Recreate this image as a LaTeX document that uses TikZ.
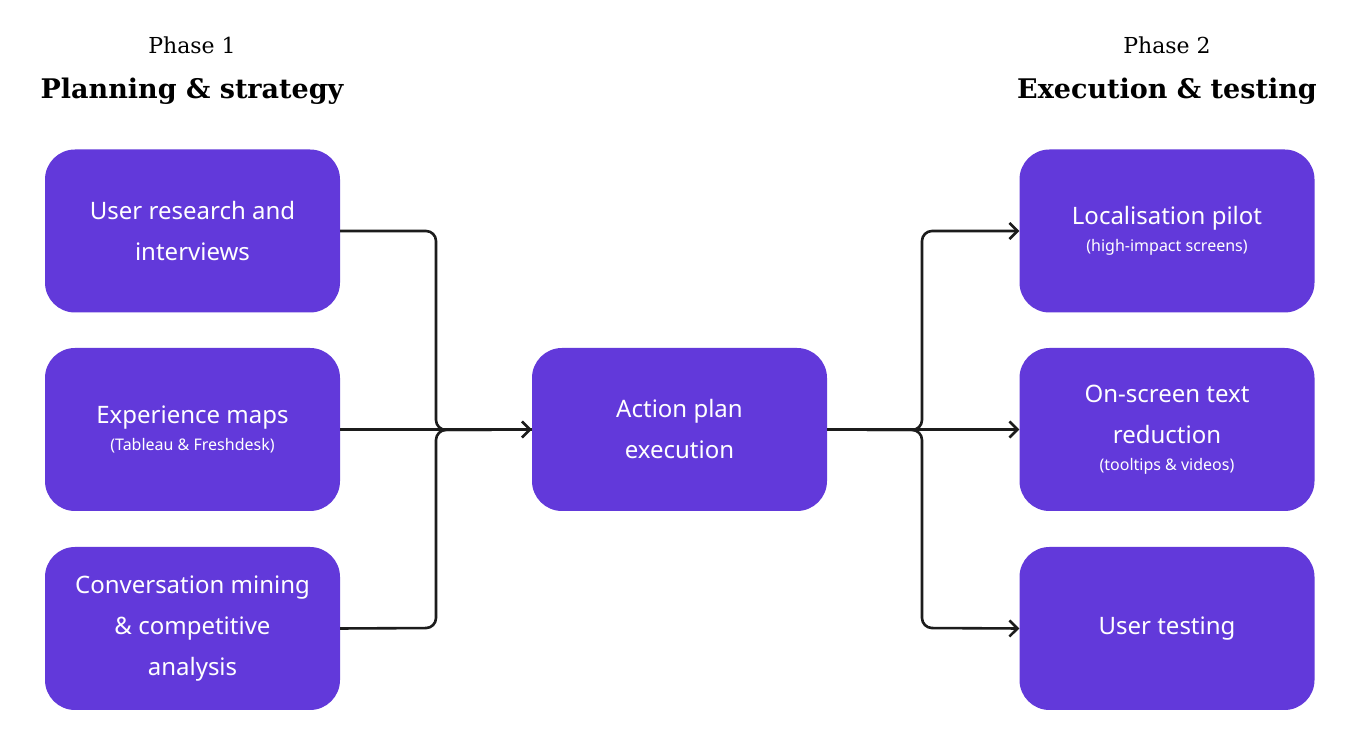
\documentclass[tikz,border=0pt]{standalone}
\usepackage{fontspec}
\setmainfont{Noto Sans}
\newfontfamily\headfont{DejaVu Serif}
\newcommand\subtx[1]{{\fontsize{16}{20}\selectfont #1}}
\usetikzlibrary{arrows.meta}
\definecolor{boxc}{HTML}{6239DA}
\definecolor{linec}{HTML}{1C1C1C}
\begin{document}
\begin{tikzpicture}[x=1pt,y=1pt,
  box/.style={fill=boxc,rounded corners=30pt,minimum width=295pt,minimum height=163pt,text=white,align=center,font=\fontsize{24}{41}\selectfont,inner sep=0pt},
  con/.style={draw=linec,line width=2.6pt,rounded corners=10pt},
  arr/.style={-{Straight Barb[length=8pt,width=16pt,line width=2.6pt]}}]
\useasboundingbox (0,0) rectangle (1366,743);
\fill[white] (0,0) rectangle (1366,743);
\node[font=\headfont\fontsize{22}{26}\selectfont] (p1) at (192,698) {Phase 1};
\node[font=\headfont\bfseries\fontsize{27}{30}\selectfont] (h1) at (192,652) {Planning \& strategy};
\node[font=\headfont\fontsize{22}{26}\selectfont] (p2) at (1167,698) {Phase 2};
\node[font=\headfont\bfseries\fontsize{27}{30}\selectfont] (h2) at (1167,652) {Execution \& testing};
\node[box] (a) at (192.5,512) {User research and\\interviews};
\node[box] (b) at (192.5,313.5) {Experience maps\\[-14pt]\subtx{(Tableau \& Freshdesk)}};
\node[box] (e) at (192.5,114.5) {Conversation mining\\\& competitive\\analysis};
\node[box] (c) at (679.5,313.5) {Action plan\\execution};
\node[box] (d) at (1167,512) {Localisation pilot\\[-14pt]\subtx{(high-impact screens)}};
\node[box] (f) at (1167,313.5) {On-screen text\\reduction\\[-14pt]\subtx{(tooltips \& videos)}};
\node[box] (g) at (1167,114.5) {User testing};
\draw[con] (a.east) -- (436,512) -- (436,313) -- (c.west);
\draw[con] (e.east) -- (436,115) -- (436,313) -- (c.west);
\draw[con,arr] (b.east) -- (c.west);
\draw[con,arr] (c.east) -- (922,313) -- (922,512) -- (d.west);
\draw[con,arr] (c.east) -- (922,313) -- (922,115) -- (g.west);
\draw[con,arr] (c.east) -- (f.west);
\end{tikzpicture}
\end{document}
